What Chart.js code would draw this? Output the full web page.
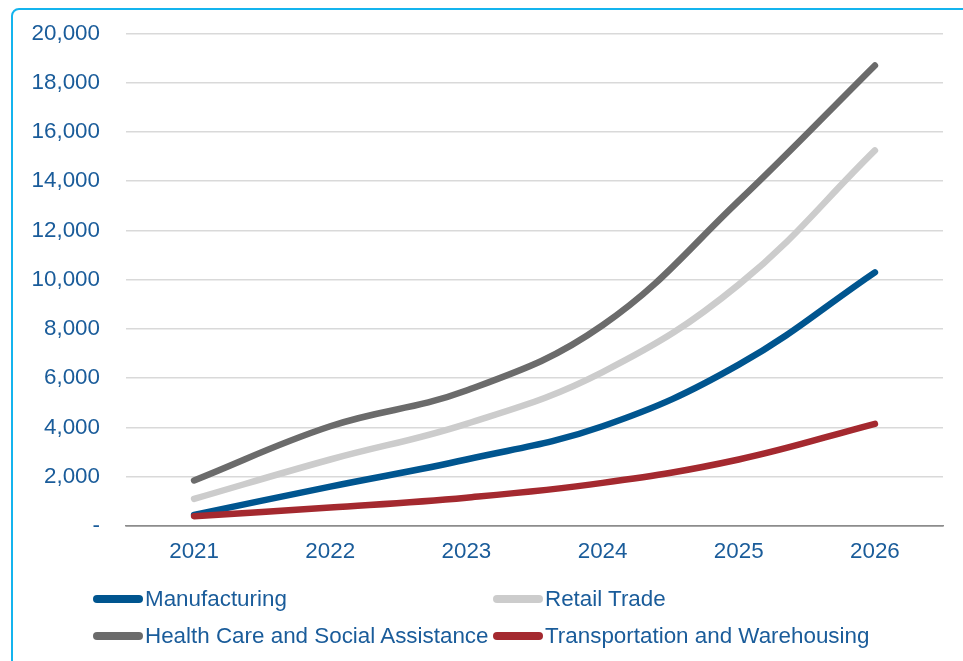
<!DOCTYPE html>
<html>
<head>
<meta charset="utf-8">
<script src="https://cdn.jsdelivr.net/npm/chart.js@4.4.0/dist/chart.umd.min.js"></script>
<style>
  body { margin: 0; background: #fff; font-family: "Liberation Sans", Arial, sans-serif; overflow: hidden; }
  #frame {
    position: absolute; left: 11px; top: 8px; width: 970px; height: 670px;
    border: 2px solid #14B4EE; border-top-left-radius: 8px; box-sizing: border-box;
  }
  #wrap { position: absolute; left: 0; top: -6px; width: 963px; height: 582px; }
  #legend { position: absolute; left: 0; top: 0; width: 963px; height: 661px; pointer-events: none; }
  .item { position: absolute; display: flex; align-items: center; color: #1A5C9A; font-size: 22.4px; white-space: nowrap; }
  .swatch { width: 50px; height: 8px; border-radius: 4px; margin-right: 2px; }
</style>
</head>
<body>
<div id="frame"></div>
<div id="wrap"><canvas id="lineChart_canvas"></canvas></div>
<div id="legend"></div>
<script>
const years = ['2021', '2022', '2023', '2024', '2025', '2026'];
const manufacturing = [450, 1600, 2700, 4050, 6550, 10300];
const retailTrade = [1100, 2700, 4150, 6250, 9800, 15250];
const healthCare = [1850, 4050, 5500, 8150, 13200, 18700];
const transportation = [400, 750, 1150, 1750, 2700, 4150];

const textColor = '#1A5C9A';
const fontFamily = '"Liberation Sans", Arial, sans-serif';

const ctx = document.getElementById('lineChart_canvas');

const data = {
    labels: years,
    datasets: [
        { label: 'Manufacturing', data: manufacturing, borderColor: '#00558F', order: 1 },
        { label: 'Retail Trade', data: retailTrade, borderColor: '#CCCCCC', order: 2 },
        { label: 'Health Care and Social Assistance', data: healthCare, borderColor: '#6B6B6B', order: 3 },
        { label: 'Transportation and Warehousing', data: transportation, borderColor: '#A4292F', order: 0 }
    ].map(ds => Object.assign(ds, {
        borderWidth: 6.5,
        borderCapStyle: 'round',
        borderJoinStyle: 'round',
        tension: 0.4,
        pointRadius: 0,
        fill: false
    }))
};

const lineChart = new Chart(ctx, {
    type: 'line',
    data: data,
    options: {
        responsive: true,
        maintainAspectRatio: false,
        animation: false,
        layout: {
            padding: { top: 17, right: 20, bottom: 0, left: 0 }
        },
        plugins: {
            legend: { display: false },
            tooltip: { enabled: false }
        },
        scales: {
            x: {
                offset: true,
                grid: { display: false, drawTicks: false },
                border: { display: true, color: '#8C8C8C', width: 1.5 },
                ticks: {
                    color: textColor,
                    padding: 12,
                    font: { family: fontFamily, size: 22.4 }
                },
                afterFit: scale => { scale.height = 50; }
            },
            y: {
                min: 0,
                max: 20000,
                ticks: {
                    stepSize: 2000,
                    color: textColor,
                    padding: 26,
                    font: { family: fontFamily, size: 22.4 },
                    callback: v => v === 0 ? '-' : v.toLocaleString('en-US')
                },
                grid: {
                    drawTicks: false,
                    color: c => c.tick && c.tick.value === 0 ? '#8C8C8C' : '#D9D9D9',
                    lineWidth: 1.5
                },
                border: { display: false },
                afterFit: scale => { scale.width = 126; }
            }
        }
    }
});

// legend in two fixed columns, like the original
const legendEl = document.getElementById('legend');
const legendPos = [[93, 599], [493, 599], [93, 636], [493, 636]];
data.datasets.forEach((ds, i) => {
    const item = document.createElement('div');
    item.className = 'item';
    item.style.left = legendPos[i][0] + 'px';
    item.style.top = (legendPos[i][1] - 13) + 'px';
    item.style.height = '26px';
    const sw = document.createElement('span');
    sw.className = 'swatch';
    sw.style.background = ds.borderColor;
    const label = document.createElement('span');
    label.textContent = ds.label;
    item.appendChild(sw);
    item.appendChild(label);
    legendEl.appendChild(item);
});
</script>
</body>
</html>
